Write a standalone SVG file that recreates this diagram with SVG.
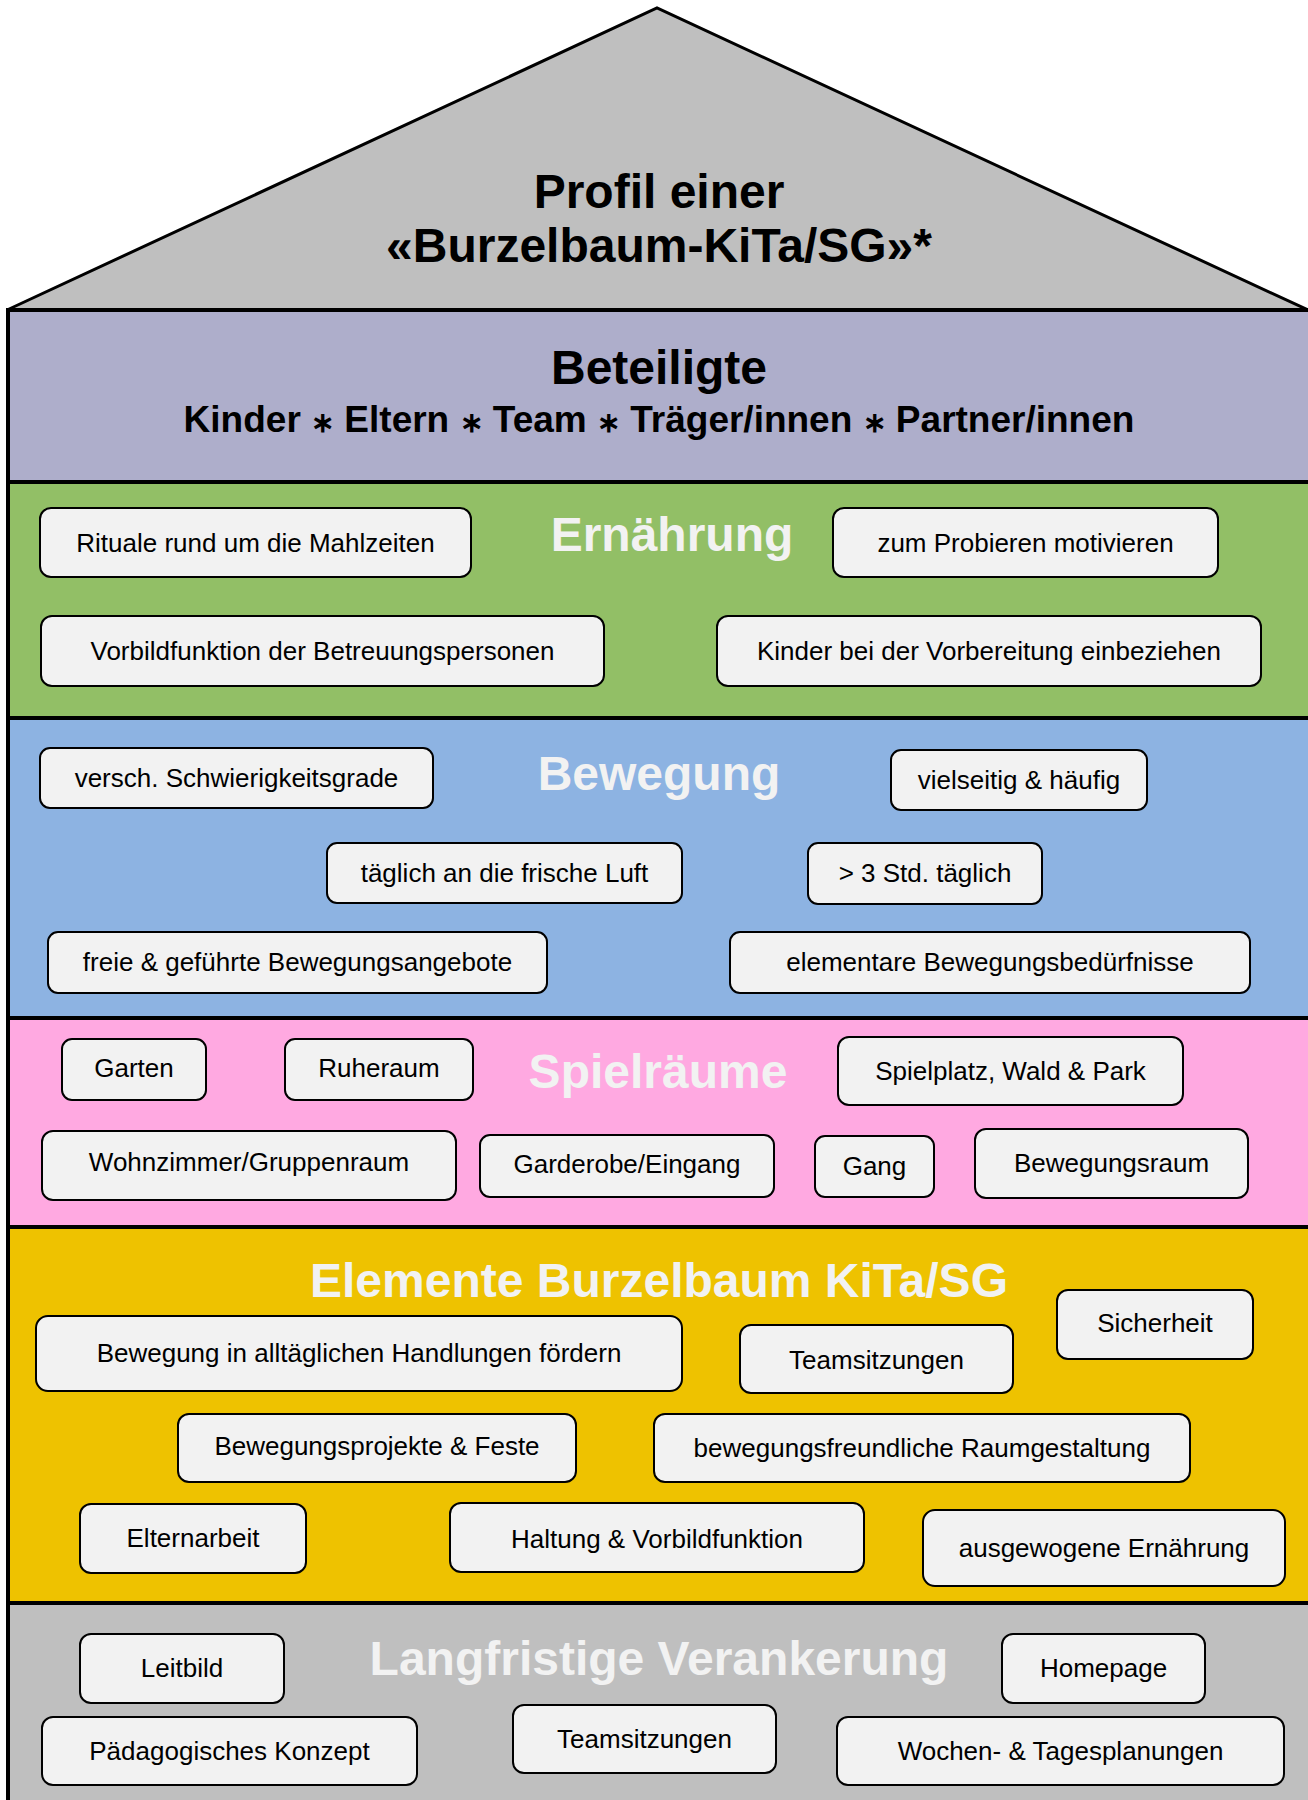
<svg xmlns="http://www.w3.org/2000/svg" width="1308" height="1800" viewBox="0 0 1308 1800">
<style>
.band{stroke:#000;stroke-width:4}
.box rect{fill:#f2f2f2;stroke:#000;stroke-width:2}
.box text{font-family:"Liberation Sans",Arial,sans-serif;font-size:26px;fill:#000;text-anchor:middle}
.head{font-family:"Liberation Sans",Arial,sans-serif;font-size:48px;font-weight:bold;fill:#f2f2f2;text-anchor:middle}
.title{font-family:"Liberation Sans",Arial,sans-serif;font-weight:bold;fill:#000;text-anchor:middle}
.ast{font-size:28px}
</style>
<rect x="0" y="0" width="1308" height="1800" fill="#ffffff"/>
<g id="roof">
<polygon points="7,310 657,8 1308,310" fill="#bfbfbf" stroke="#000" stroke-width="3" stroke-linejoin="miter"/>
<text class="title" x="659" y="208" font-size="48">Profil einer</text>
<text class="title" x="659" y="262" font-size="48">«Burzelbaum-KiTa/SG»*</text>
</g>
<g id="band-beteiligte">
<rect class="band" x="8" y="310" width="1306" height="172" fill="#aeaecb"/>
<text class="title" x="659" y="384" font-size="48">Beteiligte</text>
<text class="title" x="659" y="432" font-size="37">Kinder <tspan class="ast">∗</tspan> Eltern <tspan class="ast">∗</tspan> Team <tspan class="ast">∗</tspan> Träger/innen <tspan class="ast">∗</tspan> Partner/innen</text>
</g>
<g id="band-ernaehrung">
<rect class="band" x="8" y="482" width="1306" height="236" fill="#92bf66"/>
<text class="head" x="672" y="551">Ernährung</text>
</g>
<g id="band-bewegung">
<rect class="band" x="8" y="718" width="1306" height="300" fill="#8db3e2"/>
<text class="head" x="659" y="790">Bewegung</text>
</g>
<g id="band-spielraeume">
<rect class="band" x="8" y="1018" width="1306" height="209" fill="#ffa9e1"/>
<text class="head" x="658" y="1088">Spielräume</text>
</g>
<g id="band-elemente">
<rect class="band" x="8" y="1227" width="1306" height="376" fill="#eec200"/>
<text class="head" x="659" y="1297">Elemente Burzelbaum KiTa/SG</text>
</g>
<g id="band-verankerung">
<rect class="band" x="8" y="1603" width="1306" height="210" fill="#bfbfbf"/>
<text class="head" x="659" y="1675">Langfristige Verankerung</text>
</g>

<g id="n1" class="box"><rect x="40" y="508" width="431" height="69" rx="11"/><text x="255.5" y="552">Rituale rund um die Mahlzeiten</text></g>
<g id="n2" class="box"><rect x="833" y="508" width="385" height="69" rx="11"/><text x="1025.5" y="552">zum Probieren motivieren</text></g>
<g id="n3" class="box"><rect x="41" y="616" width="563" height="70" rx="11"/><text x="322.5" y="660">Vorbildfunktion der Betreuungspersonen</text></g>
<g id="n4" class="box"><rect x="717" y="616" width="544" height="70" rx="11"/><text x="989" y="660">Kinder bei der Vorbereitung einbeziehen</text></g>

<g id="n5" class="box"><rect x="40" y="748" width="393" height="60" rx="10"/><text x="236.5" y="787">versch. Schwierigkeitsgrade</text></g>
<g id="n6" class="box"><rect x="891" y="750" width="256" height="60" rx="10"/><text x="1019" y="789">vielseitig &amp; häufig</text></g>
<g id="n7" class="box"><rect x="327" y="843" width="355" height="60" rx="10"/><text x="504.5" y="882">täglich an die frische Luft</text></g>
<g id="n8" class="box"><rect x="808" y="843" width="234" height="61" rx="10"/><text x="925" y="882">&gt; 3 Std. täglich</text></g>
<g id="n9" class="box"><rect x="48" y="932" width="499" height="61" rx="10"/><text x="297.5" y="971">freie &amp; geführte Bewegungsangebote</text></g>
<g id="n10" class="box"><rect x="730" y="932" width="520" height="61" rx="10"/><text x="990" y="971">elementare Bewegungsbedürfnisse</text></g>

<g id="n11" class="box"><rect x="62" y="1039" width="144" height="61" rx="10"/><text x="134" y="1077">Garten</text></g>
<g id="n12" class="box"><rect x="285" y="1039" width="188" height="61" rx="10"/><text x="379" y="1077">Ruheraum</text></g>
<g id="n13" class="box"><rect x="838" y="1037" width="345" height="68" rx="11"/><text x="1010.5" y="1080">Spielplatz, Wald &amp; Park</text></g>
<g id="n14" class="box"><rect x="42" y="1131" width="414" height="69" rx="11"/><text x="249" y="1171">Wohnzimmer/Gruppenraum</text></g>
<g id="n15" class="box"><rect x="480" y="1135" width="294" height="62" rx="10"/><text x="627" y="1173">Garderobe/Eingang</text></g>
<g id="n16" class="box"><rect x="815" y="1136" width="119" height="61" rx="10"/><text x="874.5" y="1175">Gang</text></g>
<g id="n17" class="box"><rect x="975" y="1129" width="273" height="69" rx="11"/><text x="1111.5" y="1172">Bewegungsraum</text></g>

<g id="n18" class="box"><rect x="1057" y="1290" width="196" height="69" rx="11"/><text x="1155" y="1332">Sicherheit</text></g>
<g id="n19" class="box"><rect x="36" y="1316" width="646" height="75" rx="12"/><text x="359" y="1362">Bewegung in alltäglichen Handlungen fördern</text></g>
<g id="n20" class="box"><rect x="740" y="1325" width="273" height="68" rx="11"/><text x="876.5" y="1369">Teamsitzungen</text></g>
<g id="n21" class="box"><rect x="178" y="1414" width="398" height="68" rx="11"/><text x="377" y="1455">Bewegungsprojekte &amp; Feste</text></g>
<g id="n22" class="box"><rect x="654" y="1414" width="536" height="68" rx="11"/><text x="922" y="1457">bewegungsfreundliche Raumgestaltung</text></g>
<g id="n23" class="box"><rect x="80" y="1504" width="226" height="69" rx="11"/><text x="193" y="1547">Elternarbeit</text></g>
<g id="n24" class="box"><rect x="450" y="1503" width="414" height="69" rx="11"/><text x="657" y="1548">Haltung &amp; Vorbildfunktion</text></g>
<g id="n25" class="box"><rect x="923" y="1510" width="362" height="76" rx="12"/><text x="1104" y="1557">ausgewogene Ernährung</text></g>

<g id="n26" class="box"><rect x="80" y="1634" width="204" height="69" rx="11"/><text x="182" y="1677">Leitbild</text></g>
<g id="n27" class="box"><rect x="1002" y="1634" width="203" height="69" rx="11"/><text x="1103.5" y="1677">Homepage</text></g>
<g id="n28" class="box"><rect x="42" y="1717" width="375" height="68" rx="11"/><text x="229.5" y="1760">Pädagogisches Konzept</text></g>
<g id="n29" class="box"><rect x="513" y="1705" width="263" height="68" rx="11"/><text x="644.5" y="1748">Teamsitzungen</text></g>
<g id="n30" class="box"><rect x="837" y="1717" width="447" height="68" rx="11"/><text x="1060.5" y="1760">Wochen- &amp; Tagesplanungen</text></g>
</svg>
